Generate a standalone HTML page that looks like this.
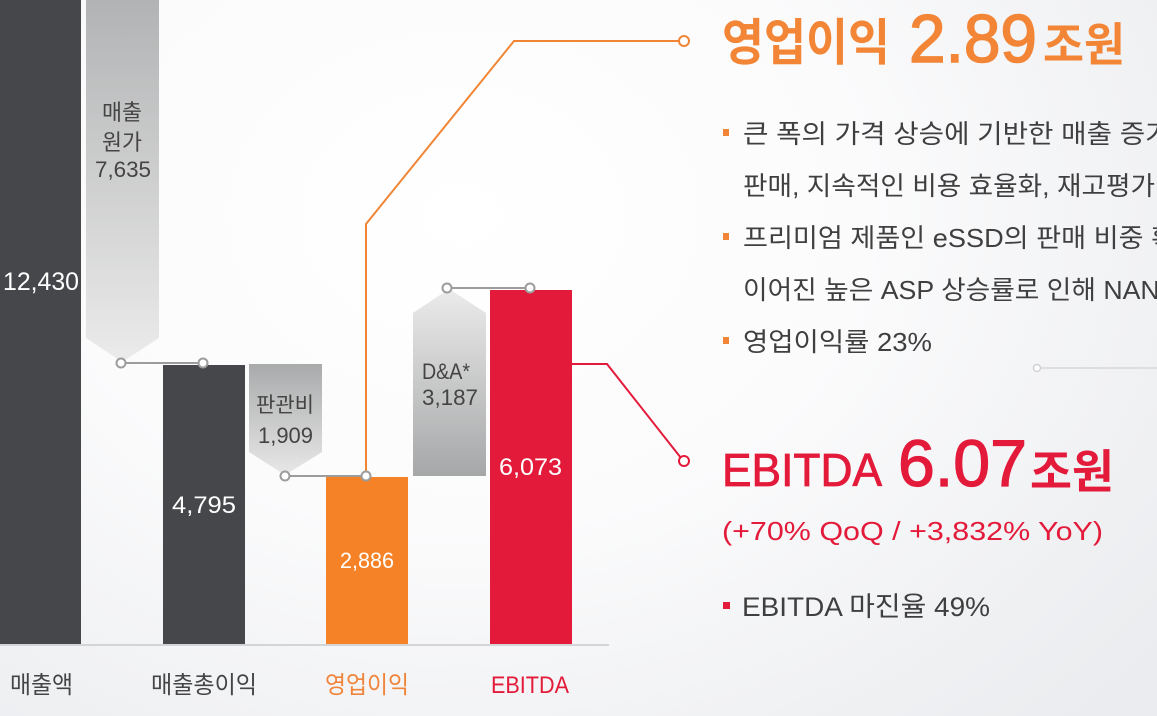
<!DOCTYPE html>
<html><head><meta charset="utf-8">
<style>
html,body{margin:0;padding:0;width:1157px;height:716px;overflow:hidden;}
body{background:radial-gradient(ellipse 900px 700px at 40% 30%, #ffffff 0%, #fbfbfc 45%, #f0f1f3 80%, #eaecef 100%);}
svg{position:absolute;left:0;top:0;}
.k{font-family:"Liberation Sans","Noto Sans CJK KR",sans-serif;}
</style></head><body>
<svg width="1157" height="716" viewBox="0 0 1157 716" xmlns="http://www.w3.org/2000/svg">
<defs>
<linearGradient id="gDown" x1="0" y1="0" x2="0" y2="1">
<stop offset="0" stop-color="#b2b3b4"/><stop offset="1" stop-color="#ebebeb"/>
</linearGradient>
<linearGradient id="gDown2" x1="0" y1="0" x2="0" y2="1">
<stop offset="0" stop-color="#a9aaab"/><stop offset="1" stop-color="#e8e8e8"/>
</linearGradient>
<linearGradient id="gUp" x1="0" y1="0" x2="0" y2="1">
<stop offset="0" stop-color="#ebebeb"/><stop offset="1" stop-color="#a6a7a8"/>
</linearGradient>
</defs>

<!-- baseline -->
<rect x="0" y="644" width="609" height="2" fill="#d3d4d6"/>

<!-- bars -->
<rect x="0" y="0" width="81" height="644" fill="#46474a"/>
<polygon points="86,0 159,0 159,338 122,362 86,338" fill="url(#gDown)"/>
<rect x="163" y="365" width="82" height="279" fill="#46474a"/>
<polygon points="249,364 322,364 322,452 285,475 249,452" fill="url(#gDown2)"/>
<rect x="326" y="477" width="82" height="167" fill="#f58226"/>
<polygon points="413,476 486,476 486,313 449,289 413,313" fill="url(#gUp)"/>
<rect x="490" y="290" width="82" height="354" fill="#e31a3a"/>

<!-- connectors -->
<g stroke="#9c9c9c" stroke-width="2" fill="#ffffff">
<line x1="121" y1="363" x2="203" y2="363"/>
<circle cx="121" cy="363" r="4.5"/><circle cx="203" cy="363" r="4.5"/>
<line x1="285" y1="476" x2="366" y2="476"/>
<circle cx="285" cy="476" r="4.5"/>
<line x1="447" y1="288" x2="530" y2="288"/>
<circle cx="447" cy="288" r="4.5"/><circle cx="530" cy="288" r="4.5"/>
</g>

<!-- orange callout line -->
<polyline points="366,476 366,224 514,41 679,41" fill="none" stroke="#f08535" stroke-width="2"/>
<circle cx="366" cy="476" r="4.5" fill="#ffffff" stroke="#9c9c9c" stroke-width="2"/>
<circle cx="684" cy="41" r="5" fill="#ffffff" stroke="#f08535" stroke-width="2"/>

<!-- red callout line -->
<polyline points="572,364 607,364 681,458" fill="none" stroke="#e31a3a" stroke-width="2"/>
<circle cx="684" cy="461" r="5" fill="#ffffff" stroke="#e31a3a" stroke-width="2"/>

<!-- gray right line -->
<line x1="1040" y1="368" x2="1157" y2="368" stroke="#d6d7d9" stroke-width="1.5"/>
<circle cx="1037" cy="368" r="3.5" fill="#ffffff" stroke="#d0d1d3" stroke-width="1.5"/>

<!-- bar text -->
<g class="k">
<text x="3" y="290" font-size="25" fill="#ffffff" textLength="76" lengthAdjust="spacingAndGlyphs">12,430</text>
<text x="102" y="120" font-size="22" fill="#444" textLength="40" lengthAdjust="spacingAndGlyphs">매출</text>
<text x="102" y="150" font-size="22" fill="#444" textLength="40" lengthAdjust="spacingAndGlyphs">원가</text>
<text x="95" y="177" font-size="22" fill="#444" textLength="56" lengthAdjust="spacingAndGlyphs">7,635</text>
<text x="172" y="513" font-size="24" fill="#ffffff" textLength="64" lengthAdjust="spacingAndGlyphs">4,795</text>
<text x="256" y="412" font-size="21" fill="#444" textLength="58" lengthAdjust="spacingAndGlyphs">판관비</text>
<text x="258" y="443" font-size="22" fill="#444" textLength="55" lengthAdjust="spacingAndGlyphs">1,909</text>
<text x="340" y="568" font-size="22" fill="#ffffff" textLength="54" lengthAdjust="spacingAndGlyphs">2,886</text>
<text x="422" y="379" font-size="22" fill="#444" textLength="48" lengthAdjust="spacingAndGlyphs">D&amp;A*</text>
<text x="422" y="405" font-size="22" fill="#444" textLength="56" lengthAdjust="spacingAndGlyphs">3,187</text>
<text x="499" y="475" font-size="24" fill="#ffffff" textLength="63" lengthAdjust="spacingAndGlyphs">6,073</text>

<!-- category labels -->
<text x="10" y="693" font-size="24" fill="#454545" textLength="63" lengthAdjust="spacingAndGlyphs">매출액</text>
<text x="151" y="693" font-size="24" fill="#454545" textLength="106" lengthAdjust="spacingAndGlyphs">매출총이익</text>
<text x="325" y="693" font-size="24" fill="#f0843a" textLength="84" lengthAdjust="spacingAndGlyphs">영업이익</text>
<text x="491" y="693" font-size="24" fill="#e31a3a" textLength="78" lengthAdjust="spacingAndGlyphs">EBITDA</text>

<!-- title orange -->
<text x="722" y="60" font-size="50" font-weight="bold" fill="#f28536" textLength="168" lengthAdjust="spacingAndGlyphs">영업이익</text>
<text x="909" y="62" font-size="68" fill="#f28536" stroke="#f28536" stroke-width="1.5" textLength="128" lengthAdjust="spacingAndGlyphs">2.89</text>
<text x="1043" y="61" font-size="46" font-weight="bold" fill="#f28536" textLength="82" lengthAdjust="spacingAndGlyphs">조원</text>

<!-- bullets -->
<rect x="723" y="129" width="6" height="7" fill="#f28536"/>
<rect x="723" y="233" width="6" height="7" fill="#f28536"/>
<rect x="723" y="337" width="6" height="7" fill="#f28536"/>
<g font-size="26" fill="#3f3f3f">
<text x="743" y="143" textLength="453" lengthAdjust="spacingAndGlyphs">큰 폭의 가격 상승에 기반한 매출 증가와</text>
<text x="743" y="195" textLength="412" lengthAdjust="spacingAndGlyphs">판매, 지속적인 비용 효율화, 재고평가</text>
<text x="743" y="247" textLength="458" lengthAdjust="spacingAndGlyphs">프리미엄 제품인 eSSD의 판매 비중 확대</text>
<text x="743" y="299" textLength="436" lengthAdjust="spacingAndGlyphs">이어진 높은 ASP 상승률로 인해 NAND</text>
<text x="743" y="351" textLength="189" lengthAdjust="spacingAndGlyphs">영업이익률 23%</text>
</g>

<!-- EBITDA title -->
<text x="722" y="486" font-size="46" fill="#e31a3a" stroke="#e31a3a" stroke-width="0.8" textLength="160" lengthAdjust="spacingAndGlyphs">EBITDA</text>
<text x="898" y="486" font-size="66" fill="#e31a3a" stroke="#e31a3a" stroke-width="1.2" textLength="129" lengthAdjust="spacingAndGlyphs">6.07</text>
<text x="1030" y="488" font-size="46" font-weight="bold" fill="#e31a3a" textLength="84" lengthAdjust="spacingAndGlyphs">조원</text>
<text x="722" y="540" font-size="26" fill="#e31a3a" textLength="381" lengthAdjust="spacingAndGlyphs">(+70% QoQ / +3,832% YoY)</text>

<rect x="723" y="602" width="7" height="7" fill="#e31a3a"/>
<text x="742" y="616" font-size="27" fill="#3f3f3f" textLength="248" lengthAdjust="spacingAndGlyphs">EBITDA 마진율 49%</text>
</g>
</svg>
</body></html>
